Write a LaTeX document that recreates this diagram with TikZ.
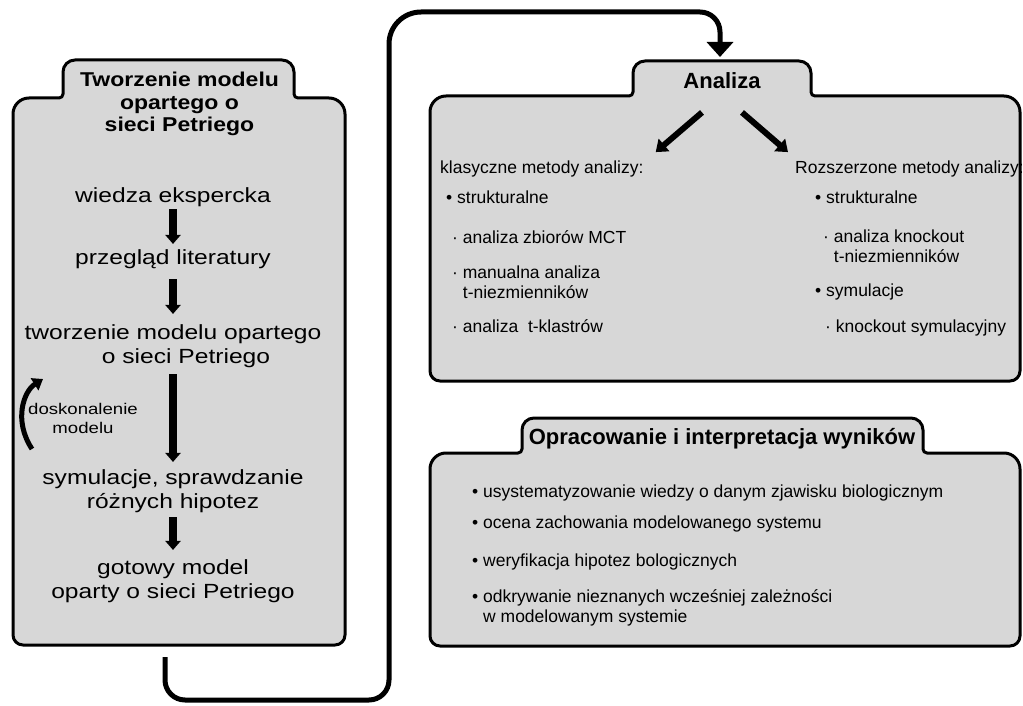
\documentclass[tikz,border=0pt]{standalone}
\usepackage{fontspec}
\setmainfont{Liberation Sans}
\newfontfamily\widefont[FakeStretch=1.2]{Liberation Sans}
\newfontfamily\widetitlefont[FakeStretch=1.15]{Liberation Sans}
\usetikzlibrary{arrows.meta,calc}

\definecolor{panelgray}{RGB}{215,215,215}

% outline of a panel with a tab on top:
% #1 left, #2 right, #3 tab left, #4 tab right, #5 tab top, #6 body top, #7 bottom
\newcommand\tabpanel[7]{%
  \draw[panel] (#1,{(#6+#7)/2})
    [rounded corners=16pt] -- (#1,#6)
    [rounded corners=4pt]  -- (#3,#6)
    [rounded corners=12pt] -- (#3,#5) -- (#4,#5)
    [rounded corners=4pt]  -- (#4,#6)
    [rounded corners=16pt] -- (#2,#6)
    [rounded corners=10pt] -- (#2,#7) -- (#1,#7) -- cycle;}

\begin{document}
\begin{tikzpicture}[x=1pt,y=-1pt,
  panel/.style={draw=black, line width=3pt, fill=panelgray, line join=round},
  paneltitle/.style={font=\widetitlefont\bfseries\fontsize{20}{23}\selectfont,
    align=center, anchor=base, inner sep=0pt},
  boxhead/.style={font=\bfseries\fontsize{22}{25}\selectfont, anchor=base, inner sep=0pt},
  steptext/.style={font=\widefont\fontsize{20.5}{24}\selectfont,
    align=center, anchor=base, inner sep=0pt},
  note/.style={font=\widefont\fontsize{15.5}{19}\selectfont,
    align=center, anchor=base, inner sep=0pt},
  item/.style={font=\fontsize{17.5}{19.5}\selectfont,
    align=left, anchor=base west, inner sep=0pt},
  flowdown/.style={line width=7.5pt, -{Triangle[width=15pt,length=9pt]}},
  splitarrow/.style={line width=6pt, -{Triangle[width=16pt,length=11pt]}},
  loopback/.style={line width=5pt, -{Triangle[width=14pt,length=10pt]}},
  link/.style={line width=5pt, -{Triangle[width=26pt,length=15pt]}},
]
\useasboundingbox (0,0) rectangle (1023,706);

% panels
\tabpanel{13}{345}{63}{294}{60}{98}{645}
\tabpanel{430}{1020}{633}{811}{61}{96}{381}
\tabpanel{430}{1020}{522}{923}{418}{453}{646}

% modelling panel (multi-line nodes sit on the baseline of their last line)
\node[paneltitle] (ttl) at (179.5,132) {Tworzenie modelu\\opartego o\\sieci Petriego};

\node[steptext] (w1) at (173,202) {wiedza ekspercka};
\node[steptext] (w2) at (173,264) {przegląd literatury};
\node[steptext] (w3) at (173,363) {tworzenie modelu opartego\\\hspace*{26pt}o sieci Petriego};
\node[steptext] (w4) at (173,508) {symulacje, sprawdzanie\\różnych hipotez};
\node[steptext] (w5) at (173,598) {gotowy model\\oparty o sieci Petriego};

\draw[flowdown, shorten <=3pt, shorten >=5pt] (w1.south) -- (w2.north);
\draw[flowdown, shorten <=11pt, shorten >=10pt] (w2.south) -- (w3.north);
\draw[flowdown, shorten <=7pt, shorten >=7pt] (w3.south) -- (w4.north);
\draw[flowdown, shorten <=5pt, shorten >=9pt] (w4.south) -- (w5.north);

\node[note] (fix) at (83,433) {doskonalenie\\modelu};
\coordinate (loopstart) at (32,449);
\coordinate (loopend) at (43,379);
\draw[loopback] (loopstart) .. controls (13,420) and (24,391) .. (loopend);

% analysis panel
\node[boxhead] (analiza) at (722,89) {Analiza};

\node[item] (klas) at (440,174) {klasyczne metody analizy:};
\node[item] (k1) at (446,203) {• strukturalne};
\node[item] (k2) at (452,243) {· analiza zbiorów MCT};
\node[item] (k3) at (452,298) {· manualna analiza\\\phantom{· }t-niezmienników};
\node[item] (k4) at (452,332) {· analiza~ t-klastrów};

\node[item] (roz) at (795,174) {Rozszerzone metody analizy:};
\node[item] (r1) at (815,203) {• strukturalne};
\node[item] (r2) at (823,262) {· analiza knockout\\\phantom{· }t-niezmienników};
\node[item] (r3) at (815,296) {• symulacje};
\node[item] (r4) at (825,332) {· knockout symulacyjny};

\draw[splitarrow] ([xshift=-20pt,yshift=-23pt]analiza.south) -- ([xshift=12pt,yshift=9pt]klas.north east);
\draw[splitarrow] ([xshift=20pt,yshift=-23pt]analiza.south) -- ([xshift=-7pt,yshift=9pt]roz.north west);

% results panel
\node[boxhead] (wyn) at (722,444) {Opracowanie i interpretacja wyników};
\node[item] (b1) at (472,497) {• usystematyzowanie wiedzy o danym zjawisku biologicznym};
\node[item] (b2) at (472,528) {• ocena zachowania modelowanego systemu};
\node[item] (b3) at (472,566) {• weryfikacja hipotez bologicznych};
\node[item] (b4) at (472,622) {• odkrywanie nieznanych wcześniej zależności\\\phantom{• }w modelowanym systemie};

% link from the modelling panel to the analysis panel
% (each corner takes the radius set before the segment that enters it)
\coordinate (modelout) at (165,657);
\coordinate (bendlow) at (389,700);
\coordinate (bendhigh) at (389,12);
\coordinate (analizain) at (720,57);
\draw[link] (modelout)
  [rounded corners=20pt] |- (bendlow)
  [rounded corners=32pt] -- (bendhigh)
  [rounded corners=20pt] -- (bendhigh -| analizain)
  -- (analizain);
\end{tikzpicture}
\end{document}
